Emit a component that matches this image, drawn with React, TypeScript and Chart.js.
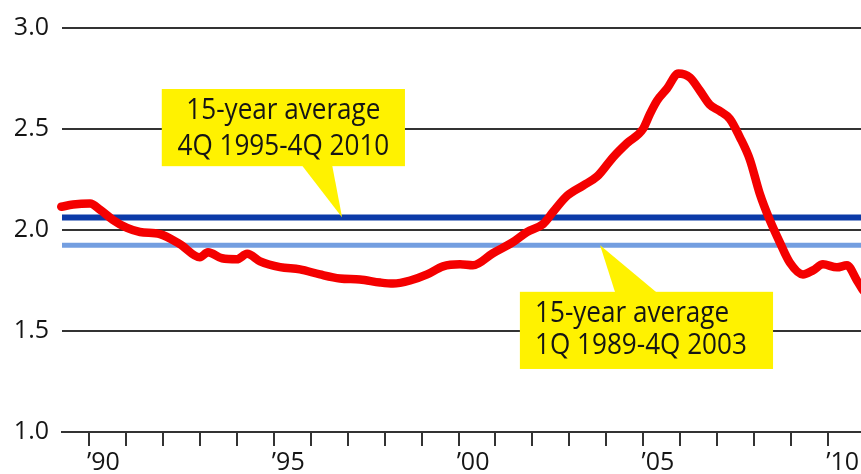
import React, { useEffect, useRef } from 'react';
import { Chart, registerables } from 'chart.js';

Chart.register(...registerables);

// Red series: quarterly ratio (year as decimal)
const YEARS = [
  1989.25, 1989.57, 1990.03, 1990.3, 1990.65, 1991.03, 1991.38, 1991.92, 1992.46, 1993.0,
  1993.22, 1993.6, 1994.0, 1994.28, 1994.63, 1995.17, 1995.71, 1996.25, 1996.79, 1997.33,
  1997.88, 1998.23, 1998.69, 1999.15, 1999.58, 2000.04, 2000.39, 2000.93, 2001.47, 2001.85,
  2002.29, 2002.56, 2002.94, 2003.37, 2003.75, 2004.18, 2004.56, 2004.99, 2005.18, 2005.37,
  2005.64, 2005.95, 2006.26, 2006.53, 2006.8, 2007.06, 2007.34, 2007.61, 2007.88, 2008.15,
  2008.42, 2008.69, 2008.96, 2009.32, 2009.59, 2009.86, 2010.24, 2010.51, 2010.78, 2010.95,
];
const RATIO = [
  2.115, 2.126, 2.131, 2.1, 2.05, 2.01, 1.99, 1.98, 1.93, 1.865,
  1.89, 1.86, 1.855, 1.882, 1.845, 1.816, 1.805, 1.78, 1.76, 1.755,
  1.74, 1.735, 1.75, 1.78, 1.82, 1.83, 1.825, 1.885, 1.94, 1.99,
  2.03, 2.09, 2.17, 2.22, 2.265, 2.36, 2.43, 2.5, 2.575, 2.64,
  2.7, 2.775, 2.755, 2.69, 2.62, 2.59, 2.55, 2.46, 2.35, 2.18,
  2.05, 1.94, 1.84, 1.78, 1.8, 1.83, 1.815, 1.825, 1.75, 1.7,
];

// 15-year averages
const AVG_4Q1995_4Q2010 = 2.062;
const AVG_1Q1989_4Q2003 = 1.924;

// Axes
const X_MIN = 1989.27;
const X_MAX = 2010.89;
const X_TICK_YEARS = [
  1990, 1991, 1992, 1993, 1994, 1995, 1996, 1997, 1998, 1999, 2000,
  2001, 2002, 2003, 2004, 2005, 2006, 2007, 2008, 2009, 2010,
];
const X_LABEL_YEARS = [1990, 1995, 2000, 2005, 2010];
const Y_TICKS = [1.0, 1.5, 2.0, 2.5, 3.0];

// Callout texts
const CALLOUT_TOP_LINES = ['15-year average', '4Q 1995-4Q 2010'];
const CALLOUT_BOTTOM_LINES = ['15-year average', '1Q 1989-4Q 2003'];

const RED = '#f40000';
const DARK_BLUE = '#0b3aa8';
const LIGHT_BLUE = '#739ee0';
const YELLOW = '#fff200';
const GRID = '#333333';
const TEXT = '#151515';
const FONT = '"Open Sans", "Noto Sans", sans-serif';

type Callout = {
  lines: string[];
  box: [number, number, number, number]; // left year, right year, top value, bottom value
  base: [number, number]; // years of pointer base
  baseOnTop: boolean;
  tip: [number, number]; // year, value
  align: 'center' | 'left';
  textX: number; // year
  baselines: number[]; // values
};

const CALLOUTS: Callout[] = [
  {
    lines: CALLOUT_TOP_LINES,
    box: [1991.97, 1998.55, 2.698, 2.316],
    base: [1995.76, 1996.58],
    baseOnTop: false,
    tip: [1996.85, AVG_4Q1995_4Q2010],
    align: 'center',
    textX: 1995.26,
    baselines: [2.551, 2.37],
  },
  {
    lines: CALLOUT_BOTTOM_LINES,
    box: [2001.66, 2008.51, 1.694, 1.312],
    base: [2004.24, 2005.37],
    baseOnTop: true,
    tip: [2003.83, AVG_1Q1989_4Q2003],
    align: 'left',
    textX: 2002.07,
    baselines: [1.547, 1.386],
  },
];

const calloutPlugin = {
  id: 'callouts',
  afterDatasetsDraw(chart: any) {
    const { ctx } = chart;
    const xs = chart.scales.x;
    const ys = chart.scales.y;
    CALLOUTS.forEach((c) => {
      const l = xs.getPixelForValue(c.box[0]);
      const r = xs.getPixelForValue(c.box[1]);
      const t = ys.getPixelForValue(c.box[2]);
      const b = ys.getPixelForValue(c.box[3]);
      ctx.save();
      ctx.fillStyle = YELLOW;
      ctx.fillRect(l, t, r - l, b - t);
      const edge = c.baseOnTop ? t + 1 : b - 1;
      ctx.beginPath();
      ctx.moveTo(xs.getPixelForValue(c.base[0]), edge);
      ctx.lineTo(xs.getPixelForValue(c.tip[0]), ys.getPixelForValue(c.tip[1]));
      ctx.lineTo(xs.getPixelForValue(c.base[1]), edge);
      ctx.closePath();
      ctx.fill();
      ctx.fillStyle = TEXT;
      ctx.font = `30px ${FONT}`;
      ctx.textBaseline = 'alphabetic';
      ctx.textAlign = c.align;
      const tx = xs.getPixelForValue(c.textX);
      c.lines.forEach((line, i) => {
        ctx.save();
        ctx.translate(tx, ys.getPixelForValue(c.baselines[i]));
        ctx.scale(0.87, 1);
        ctx.fillText(line, 0, 0);
        ctx.restore();
      });
      ctx.restore();
    });
  },
};

export default function App() {
  const ref = useRef<HTMLCanvasElement | null>(null);

  useEffect(() => {
    if (!ref.current) return;
    const chart = new Chart(ref.current, {
      type: 'line',
      data: {
        datasets: [
          {
            label: 'Ratio',
            data: YEARS.map((x, i) => ({ x, y: RATIO[i] })),
            borderColor: RED,
            borderWidth: 8.5,
            pointRadius: 0,
            cubicInterpolationMode: 'monotone',
            borderCapStyle: 'round',
            borderJoinStyle: 'round',
            clip: false as any,
            order: 0,
          },
          {
            label: '15-year average 4Q 1995-4Q 2010',
            data: [
              { x: X_MIN, y: AVG_4Q1995_4Q2010 },
              { x: X_MAX, y: AVG_4Q1995_4Q2010 },
            ],
            borderColor: DARK_BLUE,
            borderWidth: 6,
            pointRadius: 0,
            order: 1,
          },
          {
            label: '15-year average 1Q 1989-4Q 2003',
            data: [
              { x: X_MIN, y: AVG_1Q1989_4Q2003 },
              { x: X_MAX, y: AVG_1Q1989_4Q2003 },
            ],
            borderColor: LIGHT_BLUE,
            borderWidth: 5,
            pointRadius: 0,
            order: 2,
          },
        ],
      },
      options: {
        animation: false,
        responsive: true,
        maintainAspectRatio: false,
        layout: { padding: { top: 23, right: 0, left: 0, bottom: 0 } },
        plugins: {
          legend: { display: false },
          tooltip: { enabled: false },
        },
        scales: {
          x: {
            type: 'linear',
            min: X_MIN,
            max: X_MAX,
            afterBuildTicks: (s: any) => {
              s.ticks = X_TICK_YEARS.map((v) => ({ value: v }));
            },
            afterFit: (s: any) => {
              s.height = 42;
            },
            grid: {
              drawOnChartArea: false,
              drawTicks: true,
              tickLength: 14,
              tickWidth: 2,
              tickColor: GRID,
              color: GRID,
              lineWidth: 2,
            },
            border: { display: true, color: GRID, width: 2 },
            ticks: {
              autoSkip: false,
              maxRotation: 0,
              minRotation: 0,
              padding: 2,
              labelOffset: 14.5,
              color: TEXT,
              font: { family: FONT, size: 25 },
              callback: (v: any) =>
                X_LABEL_YEARS.includes(Number(v))
                  ? '\u2019' + String(Number(v) % 100).padStart(2, '0')
                  : '',
            },
          },
          y: {
            type: 'linear',
            min: 1,
            max: 3,
            afterBuildTicks: (s: any) => {
              s.ticks = Y_TICKS.map((v) => ({ value: v }));
            },
            afterFit: (s: any) => {
              s.width = 62;
            },
            grid: {
              drawTicks: false,
              color: GRID,
              lineWidth: 2,
            },
            border: { display: false },
            ticks: {
              padding: 13,
              color: TEXT,
              font: { family: FONT, size: 25 },
              callback: (v: any) => Number(v).toFixed(1),
            },
          },
        },
      },
      plugins: [calloutPlugin],
    });
    return () => chart.destroy();
  }, []);

  return (
    <div style={{ position: 'absolute', left: 0, top: 0, width: 861, height: 474, background: '#ffffff' }}>
      <canvas ref={ref} />
    </div>
  );
}
